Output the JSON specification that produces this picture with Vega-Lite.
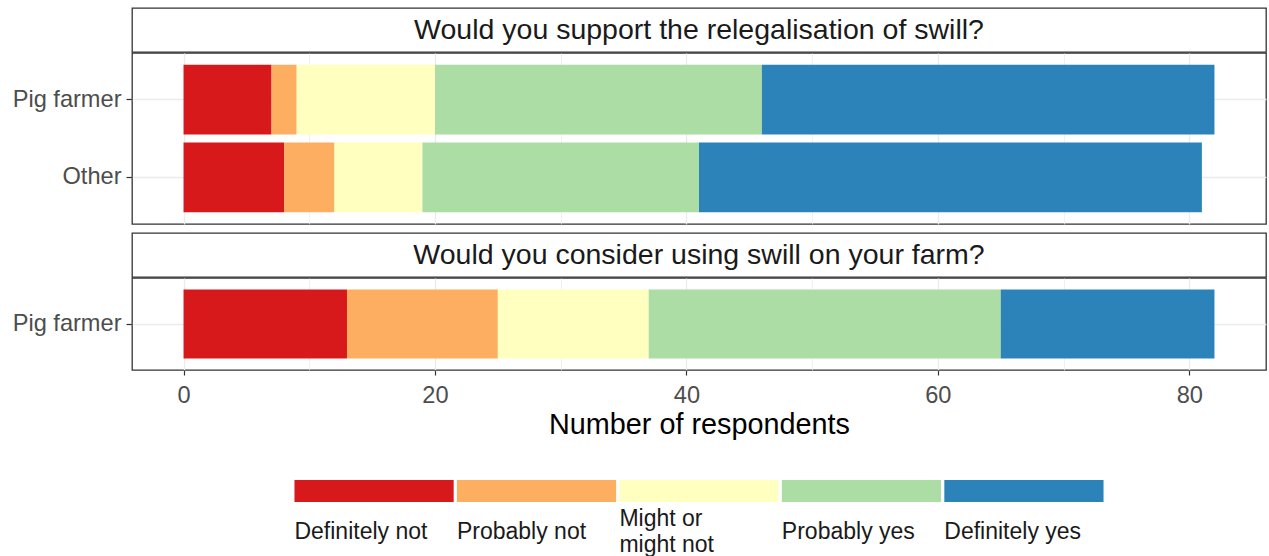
{
  "$schema": "https://vega.github.io/schema/vega-lite/v6.json",
  "padding": {"left": 11, "top": 7, "right": 0, "bottom": 0},
  "background": "white",
  "config": {
    "font": "Liberation Sans",
    "view": {"stroke": "#333333", "strokeWidth": 1.3},
    "text": {"font": "Liberation Sans"}
  },
  "datasets": {
    "support": [
      {"group": "Pig farmer", "response": "Definitely not", "rank": 1, "n": 7},
      {"group": "Pig farmer", "response": "Probably not", "rank": 2, "n": 2},
      {"group": "Pig farmer", "response": "Might or might not", "rank": 3, "n": 11},
      {"group": "Pig farmer", "response": "Probably yes", "rank": 4, "n": 26},
      {"group": "Pig farmer", "response": "Definitely yes", "rank": 5, "n": 36},
      {"group": "Other", "response": "Definitely not", "rank": 1, "n": 8},
      {"group": "Other", "response": "Probably not", "rank": 2, "n": 4},
      {"group": "Other", "response": "Might or might not", "rank": 3, "n": 7},
      {"group": "Other", "response": "Probably yes", "rank": 4, "n": 22},
      {"group": "Other", "response": "Definitely yes", "rank": 5, "n": 40}
    ],
    "consider": [
      {"group": "Pig farmer", "response": "Definitely not", "rank": 1, "n": 13},
      {"group": "Pig farmer", "response": "Probably not", "rank": 2, "n": 12},
      {"group": "Pig farmer", "response": "Might or might not", "rank": 3, "n": 12},
      {"group": "Pig farmer", "response": "Probably yes", "rank": 4, "n": 28},
      {"group": "Pig farmer", "response": "Definitely yes", "rank": 5, "n": 17}
    ],
    "legend": [
      {"response": "Definitely not", "label": "Definitely not"},
      {"response": "Probably not", "label": "Probably not"},
      {"response": "Might or might not", "label": "Might or\nmight not"},
      {"response": "Probably yes", "label": "Probably yes"},
      {"response": "Definitely yes", "label": "Definitely yes"}
    ]
  },
  "resolve": {"scale": {"x": "independent", "y": "independent"}},
  "spacing": 39,
  "vconcat": [
    {
      "resolve": {"scale": {"x": "independent", "y": "independent"}},
      "spacing": 7,
      "vconcat": [
        {
          "resolve": {"scale": {"x": "independent", "y": "independent"}},
          "spacing": -3,
          "vconcat": [
            {
              "width": 1134,
              "height": 44,
              "data": {"values": [{"title": "Would you support the relegalisation of swill?"}]},
              "mark": {"type": "text", "fontSize": 28.5, "color": "#1a1a1a"},
              "encoding": {
                "text": {"field": "title"},
                "x": {"field": "title", "type": "nominal", "axis": null, "scale": {"type": "point"}},
                "y": {"field": "title", "type": "nominal", "axis": null, "scale": {"type": "point"}}
              }
            },
            {
              "width": 1134,
              "height": 171,
              "data": {"name": "support"},
              "mark": {"type": "bar"},
              "encoding": {
                "y": {
                  "field": "group", "type": "nominal", "sort": ["Pig farmer", "Other"], "title": null,
                  "scale": {"paddingInner": 0.1, "paddingOuter": 0.15},
                  "axis": {"labelFontSize": 23.6, "labelColor": "#4d4d4d", "tickColor": "#333333", "tickSize": 6, "tickWidth": 1.2, "labelPadding": 5, "domain": false, "grid": true, "gridColor": "#ebebeb", "gridWidth": 1.3}
                },
                "x": {
                  "field": "n", "type": "quantitative", "stack": "zero",
                  "scale": {"domain": [-4.1, 86.1], "nice": false, "zero": false},
                  "axis": {
                    "values": [0, 10, 20, 30, 40, 50, 60, 70, 80],
                    "labels": false, "ticks": false, "domain": false, "title": null, "grid": true,
                    "gridColor": "#ebebeb",
                    "gridWidth": {"condition": {"test": "datum.value % 20 === 0", "value": 1.3}, "value": 0.7}
                  }
                },
                "color": {
                  "field": "response", "type": "nominal", "legend": null,
                  "scale": {
                    "domain": ["Definitely not", "Probably not", "Might or might not", "Probably yes", "Definitely yes"],
                    "range": ["#d7191c", "#fdae61", "#ffffbf", "#abdda4", "#2b83ba"]
                  }
                },
                "order": {"field": "rank", "type": "quantitative"}
              }
            }
          ]
        },
        {
          "resolve": {"scale": {"x": "independent", "y": "independent"}},
          "spacing": -3,
          "vconcat": [
            {
              "width": 1134,
              "height": 44,
              "data": {"values": [{"title": "Would you consider using swill on your farm?"}]},
              "mark": {"type": "text", "fontSize": 28.5, "color": "#1a1a1a"},
              "encoding": {
                "text": {"field": "title"},
                "x": {"field": "title", "type": "nominal", "axis": null, "scale": {"type": "point"}},
                "y": {"field": "title", "type": "nominal", "axis": null, "scale": {"type": "point"}}
              }
            },
            {
              "width": 1134,
              "height": 92,
              "data": {"name": "consider"},
              "mark": {"type": "bar"},
              "encoding": {
                "y": {
                  "field": "group", "type": "nominal", "title": null,
                  "scale": {"paddingInner": 0.1, "paddingOuter": 0.15},
                  "axis": {"labelFontSize": 23.6, "labelColor": "#4d4d4d", "tickColor": "#333333", "tickSize": 6, "tickWidth": 1.2, "labelPadding": 5, "domain": false, "grid": true, "gridColor": "#ebebeb", "gridWidth": 1.3}
                },
                "x": {
                  "field": "n", "type": "quantitative", "stack": "zero",
                  "title": "Number of respondents",
                  "scale": {"domain": [-4.1, 86.1], "nice": false, "zero": false},
                  "axis": {
                    "values": [0, 10, 20, 30, 40, 50, 60, 70, 80],
                    "labelExpr": "datum.value % 20 === 0 ? datum.label : ''",
                    "labelFontSize": 23.6, "labelColor": "#4d4d4d", "labelPadding": 8,
                    "tickColor": "#333333", "tickSize": 5, "tickWidth": 1.2,
                    "tickOpacity": {"condition": {"test": "datum.value % 20 === 0", "value": 1}, "value": 0},
                    "domain": false,
                    "titleFontSize": 28.8, "titleFontWeight": "normal", "titleColor": "#000000", "titlePadding": 4,
                    "grid": true, "gridColor": "#ebebeb",
                    "gridWidth": {"condition": {"test": "datum.value % 20 === 0", "value": 1.3}, "value": 0.7}
                  }
                },
                "color": {
                  "field": "response", "type": "nominal", "legend": null,
                  "scale": {
                    "domain": ["Definitely not", "Probably not", "Might or might not", "Probably yes", "Definitely yes"],
                    "range": ["#d7191c", "#fdae61", "#ffffbf", "#abdda4", "#2b83ba"]
                  }
                },
                "order": {"field": "rank", "type": "quantitative"}
              }
            }
          ]
        }
      ]
    },
    {
      "width": 1134,
      "height": 63,
      "view": {"stroke": null},
      "data": {"name": "legend"},
      "layer": [
        {
          "mark": {"type": "bar"},
          "encoding": {
            "x": {
              "field": "response", "type": "nominal", "axis": null,
              "sort": ["Definitely not", "Probably not", "Might or might not", "Probably yes", "Definitely yes"],
              "scale": {"type": "band", "paddingInner": 0.02, "paddingOuter": 1}
            },
            "y": {"datum": "box", "type": "nominal", "axis": null, "scale": {"domain": ["box", "label"], "paddingInner": 0.46, "paddingOuter": 0}},
            "color": {
              "field": "response", "type": "nominal", "legend": null,
              "scale": {
                "domain": ["Definitely not", "Probably not", "Might or might not", "Probably yes", "Definitely yes"],
                "range": ["#d7191c", "#fdae61", "#ffffbf", "#abdda4", "#2b83ba"]
              }
            }
          }
        },
        {
          "mark": {"type": "text", "align": "left", "baseline": "middle", "fontSize": 23, "lineBreak": "\n", "lineHeight": 26, "color": "#1a1a1a",
                   "dy": {"expr": "indexof(datum.label, '\\n') >= 0 ? -13 : 0"}},
          "encoding": {
            "x": {
              "field": "response", "type": "nominal", "axis": null, "bandPosition": 0,
              "sort": ["Definitely not", "Probably not", "Might or might not", "Probably yes", "Definitely yes"]
            },
            "y": {"datum": "label", "type": "nominal", "axis": null},
            "text": {"field": "label"}
          }
        }
      ]
    }
  ]
}
